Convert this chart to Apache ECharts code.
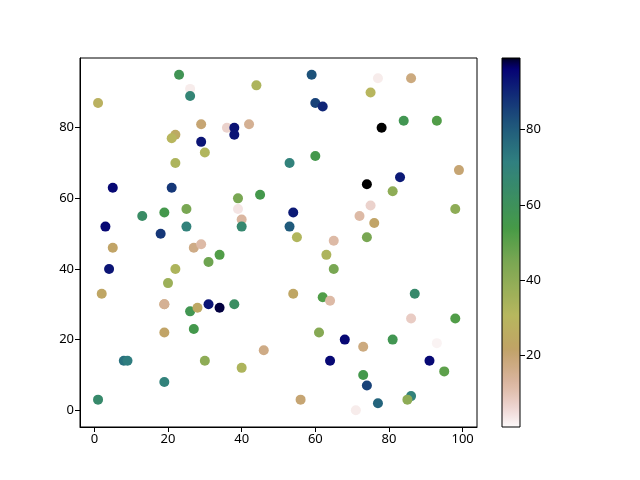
<!DOCTYPE html>
<html>
<head>
<meta charset="utf-8">
<script src="https://cdn.jsdelivr.net/npm/echarts@6/dist/echarts.min.js"></script>
<style>html,body{margin:0;padding:0;background:#fff}#c{width:640px;height:480px}</style>
</head>
<body>
<div id="c"></div>
<script>
// ---- data ----
const xs = [23,26,26,44,1,29,36,38,38,42,22,21,29,30,22,5,21,39,45,39,40,40,13,19,25,3,18,25,5,27,29,
  59,77,86,75,60,62,78,84,93,60,53,99,83,74,81,98,75,72,76,54,53,55,65,74,
  34,31,4,22,20,2,19,19,26,28,31,34,38,19,27,46,8,9,30,40,19,1,
  63,65,54,62,64,87,86,98,61,68,73,81,93,64,91,73,95,74,56,77,86,85,71];
const ys = [95,91,89,92,87,81,80,80,78,81,78,77,76,73,70,63,63,60,61,57,54,52,55,56,57,52,50,52,46,46,47,
  95,94,94,90,87,86,80,82,82,72,70,68,66,64,62,57,58,55,53,56,52,49,48,49,
  44,42,40,40,36,33,30,30,28,29,30,29,30,22,23,17,14,14,14,12,8,3,
  44,40,33,32,31,33,26,26,22,20,18,20,19,14,14,10,11,7,3,2,4,3,0];
const cs = [58,3,68,33,28,20,7,93,93,15,25,30,93,32,33,95,87,45,55,4,13,66,63,55,45,95,87,70,22,17,12,
  82,3,18,30,85,90,99,57,52,55,70,20,92,99,40,40,7,12,22,92,80,32,12,45,
  52,47,93,33,37,23,20,15,57,24,93,98,62,22,55,17,75,72,40,33,70,65,
  33,45,23,52,12,65,8,52,42,95,18,57,2,95,95,55,50,85,20,78,70,40,3];
const xTicks = [0,20,40,60,80,100];
const yTicks = [0,20,40,60,80];
const cbTicks = [20,40,60,80];
const cMin = 1, cMax = 99;

// ---- gist_earth colormap (matplotlib segment data) ----
const GE = {
  r: [[0,0],[0.2824,0.1882],[0.4588,0.2714],[0.5490,0.4719],[0.6980,0.7176],[0.7882,0.7553],[1,0.9922]],
  g: [[0,0],[0.0275,0],[0.1098,0.1893],[0.1647,0.3035],[0.2078,0.3841],[0.2824,0.5020],[0.5216,0.6397],[0.6980,0.7171],[0.7882,0.6392],[0.7922,0.6413],[0.8,0.6447],[0.8078,0.6481],[0.8157,0.6549],[0.8667,0.6991],[0.8745,0.7103],[0.8824,0.7216],[0.8902,0.7323],[0.8980,0.7430],[0.9412,0.8275],[0.9569,0.8635],[0.9647,0.8816],[0.9961,0.9733],[1,0.9843]],
  b: [[0,0],[0.0039,0.1684],[0.0078,0.2212],[0.0275,0.4329],[0.0314,0.4549],[0.2824,0.5004],[0.4667,0.2748],[0.5451,0.3205],[0.7843,0.3961],[0.8941,0.6651],[1,0.9843]]
};
function seg(s, x) {
  for (let i = 1; i < s.length; i++) {
    if (x <= s[i][0]) {
      const t = (x - s[i-1][0]) / (s[i][0] - s[i-1][0]);
      return s[i-1][1] + t * (s[i][1] - s[i-1][1]);
    }
  }
  return s[s.length-1][1];
}
function earthR(t) { // reversed: t=0 -> light, t=1 -> black
  const x = 1 - t;
  const c = [seg(GE.r,x), seg(GE.g,x), seg(GE.b,x)].map(v => Math.round(v*255));
  return 'rgb(' + c.join(',') + ')';
}
const N = 128;
const rampColors = [];
const gradStops = [];
for (let i = 0; i <= N; i++) {
  rampColors.push(earthR(i/N));
  gradStops.push({offset: 1 - i/N, color: earthR(i/N)});
}

const points = xs.map((x, i) => [x, ys[i], cs[i]]);
const font = 'Noto Sans';
const txt = {color: '#000', fontFamily: font, fontSize: 13};

const chart = echarts.init(document.getElementById('c'), null, {renderer: 'canvas'});
chart.setOption({
  animation: false,
  backgroundColor: '#fff',
  grid: [
    {left: 80, top: 58, width: 397, height: 369, show: true, borderColor: '#000', borderWidth: 1, backgroundColor: 'transparent'},
    {left: 502, top: 58, width: 18, height: 369}
  ],
  xAxis: [
    {gridIndex: 0, type: 'value', min: -3.9, max: 103.9,
     axisLine: {show: true, onZero: false, lineStyle: {color: '#000', width: 1}},
     axisTick: {show: true, length: 5, lineStyle: {color: '#000'}, customValues: xTicks},
     axisLabel: Object.assign({margin: 6, customValues: xTicks}, txt),
     splitLine: {show: false}},
    {gridIndex: 1, type: 'value', min: 0, max: 1, show: false}
  ],
  yAxis: [
    {gridIndex: 0, type: 'value', min: -4.75, max: 99.75,
     axisLine: {show: true, onZero: false, lineStyle: {color: '#000', width: 1}},
     axisTick: {show: true, length: 5, lineStyle: {color: '#000'}, customValues: yTicks},
     axisLabel: Object.assign({margin: 6, customValues: yTicks}, txt),
     splitLine: {show: false}},
    {gridIndex: 1, type: 'value', min: cMin, max: cMax, position: 'right',
     axisLine: {show: false, onZero: false},
     axisTick: {show: true, length: 5, lineStyle: {color: '#000'}, customValues: cbTicks},
     axisLabel: Object.assign({margin: 6, customValues: cbTicks}, txt),
     splitLine: {show: false}}
  ],
  visualMap: {
    type: 'continuous', show: false, min: cMin, max: cMax, dimension: 2, seriesIndex: 0,
    inRange: {color: rampColors}
  },
  series: [
    {type: 'scatter', xAxisIndex: 0, yAxisIndex: 0, data: points, symbolSize: 10,
     itemStyle: {opacity: 1}},
    {type: 'custom', xAxisIndex: 1, yAxisIndex: 1, data: [[0, cMin, cMax]],
     renderItem: function (params, api) {
       const p0 = api.coord([0, api.value(2)]);
       const p1 = api.coord([1, api.value(1)]);
       return {
         type: 'rect',
         shape: {x: p0[0], y: p0[1], width: p1[0]-p0[0], height: p1[1]-p0[1]},
         style: {
           fill: new echarts.graphic.LinearGradient(0, 0, 0, 1, gradStops),
           stroke: '#000', lineWidth: 1
         }
       };
     }}
  ]
});
</script>
</body>
</html>
